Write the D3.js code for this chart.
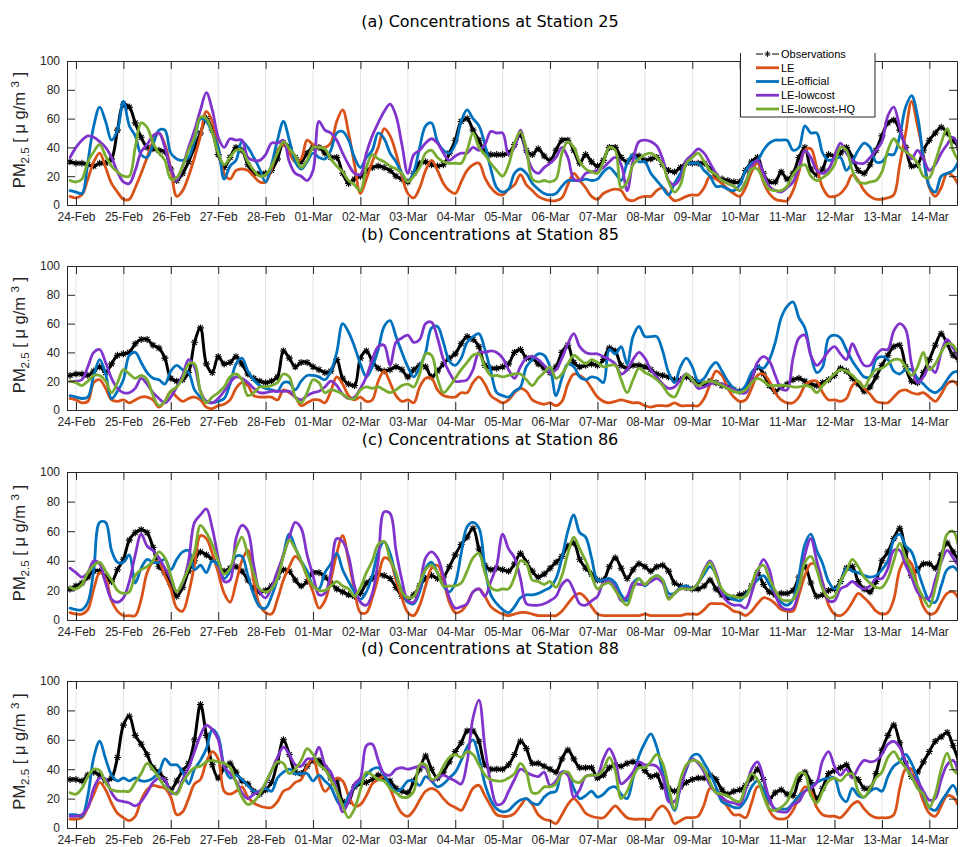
<!DOCTYPE html>
<html>
<head>
<meta charset="utf-8">
<script src="https://cdn.jsdelivr.net/npm/d3@7"></script>
<style>
  body { margin: 0; background: #fff; }
  svg { display: block; }
  text { white-space: pre; }
</style>
</head>
<body>
<script>
// values every 3 hours, 23-Feb 21:00 .. 14-Mar 15:00 (151 points)
var startTime = Date.UTC(2019, 1, 23, 21),
    stepHours = 3;

var stations = ["25", "85", "86", "88"];
var panelLetters = ["a", "b", "c", "d"];
var seriesNames = ["Observations", "LE", "LE-official", "LE-lowcost", "LE-lowcost-HQ"];
var yTicks = [0, 20, 40, 60, 80, 100];

// ---- Station 25 ----
var obs25 = [30,
29,29,28,27,29,29,32,52,
70,68,57,47,40,39,38,37,
25,17,22,30,40,50,60,52,
35,26,33,40,38,28,22,22,
22,24,32,43,40,33,30,36,
40,40,36,33,33,22,15,18,
20,24,26,27,26,24,20,18,
16,22,29,30,28,27,28,36,
45,58,60,52,45,37,35,35,
35,36,42,49,38,35,39,34,
31,38,45,45,38,29,35,30,
27,31,40,40,33,30,34,34,
31,32,33,28,24,23,26,29,
29,29,29,25,20,18,17,16,
16,24,30,33,22,16,16,23,
18,22,33,40,25,21,25,35,
34,36,40,33,24,22,28,38,
48,57,59,52,40,27,28,38,
45,50,54,50,45,40];
var le25 = [6,
5,7,18,30,36,26,15,9,
4,4,12,22,33,44,50,42,
25,6,10,20,33,48,65,58,
40,22,18,24,25,24,20,16,
16,25,38,42,36,30,32,45,
42,40,40,43,58,66,50,28,
8,18,30,40,53,48,36,20,
8,5,12,24,31,24,15,10,
8,16,24,28,29,19,12,8,
7,11,14,21,14,10,6,4,
3,3,5,14,22,17,12,6,
4,8,10,11,10,4,3,5,
6,6,10,12,7,3,4,6,
7,7,12,20,18,15,11,8,
6,12,23,29,16,8,4,3,
3,10,23,38,39,26,12,6,
6,8,13,21,17,10,6,4,
4,5,7,28,50,72,55,35,
12,6,12,22,20,13];
var official25 = [10,
9,8,30,55,68,58,45,52,
72,55,48,35,33,42,52,52,
36,32,31,33,45,60,58,50,
40,18,27,31,44,40,33,25,
16,28,45,58,45,30,25,30,
36,33,32,38,50,51,45,33,
26,33,38,50,46,36,30,22,
16,23,40,55,57,44,38,36,
42,58,66,60,55,42,25,12,
9,11,22,25,22,15,11,8,
7,8,13,17,17,17,18,17,
18,23,26,22,17,29,35,30,
30,22,17,12,7,15,22,29,
29,29,24,20,13,13,11,10,
14,24,29,31,38,43,45,45,
45,38,40,55,50,50,36,31,
32,33,24,30,38,43,40,30,
30,35,35,48,68,76,62,33,
13,9,20,22,24,31];
var lowcost25 = [33,
40,45,48,47,44,40,33,23,
16,15,24,37,42,48,50,40,
25,17,27,40,52,66,78,66,
47,40,46,45,45,33,31,31,
35,43,43,45,30,22,20,17,
24,58,52,50,45,36,28,22,
21,36,48,57,65,70,62,42,
22,35,38,43,46,43,36,31,
34,36,36,40,38,42,51,50,
50,35,40,52,36,25,22,26,
29,33,40,33,18,17,22,23,
24,26,30,33,28,10,31,44,
45,44,41,32,17,14,19,31,
35,39,36,29,22,17,15,13,
10,16,27,31,22,13,10,9,
12,16,26,38,33,24,22,25,
34,43,36,31,29,29,33,38,
44,62,68,54,40,32,38,32,
24,28,36,42,47,40];
var lowcostHQ25 = [17,
16,18,30,37,42,34,27,23,
20,20,40,57,54,43,36,31,
18,19,27,38,47,61,60,50,
36,28,33,38,38,30,24,20,
21,27,36,44,39,34,26,31,
40,40,39,32,27,23,17,14,
10,26,35,32,30,27,25,22,
16,20,26,36,38,33,30,29,
29,29,38,50,40,35,29,24,
20,28,43,51,39,18,16,17,
16,18,36,44,40,30,25,23,
22,30,40,38,12,16,28,32,
35,36,33,28,16,9,14,29,
33,36,30,24,21,17,15,13,
10,16,25,25,17,11,10,10,
13,21,26,28,20,17,19,22,
28,40,38,24,16,15,16,17,
23,38,46,40,37,34,29,20,
19,30,43,53,38,30];

// ---- Station 85 ----
var obs85 = [24,
25,25,24,27,30,26,32,38,
39,40,46,49,49,45,43,36,
22,20,21,26,47,57,32,26,
37,32,33,37,32,25,22,20,
19,20,23,41,36,30,33,33,
30,28,26,27,35,22,18,17,
36,41,34,29,27,28,30,28,
23,28,31,30,23,27,32,36,
39,46,51,49,44,31,29,29,
30,32,40,42,36,36,32,29,
26,30,40,45,33,30,31,32,
31,35,43,41,31,29,31,31,
30,28,25,24,23,21,21,23,
21,19,18,20,19,17,16,14,
13,14,22,30,25,17,13,16,
18,21,22,20,18,17,19,21,
24,29,27,22,18,13,16,23,
31,38,44,45,30,20,19,26,
35,45,53,46,38,35];
var le85 = [8,
7,5,6,19,21,15,7,6,
7,5,7,9,9,7,2,6,
13,9,6,8,9,7,2,1,
3,4,7,15,19,17,10,9,
9,9,7,14,12,9,3,5,
7,7,5,13,23,18,10,7,
9,6,7,20,27,19,10,6,
7,5,16,22,22,14,10,9,
9,12,12,19,23,18,10,7,
5,7,12,15,13,7,5,4,
5,3,6,18,25,24,21,15,
9,6,5,6,7,6,5,5,
3,2,3,3,3,5,3,3,
3,3,8,18,27,24,15,9,
6,7,15,24,25,20,12,7,
5,5,9,17,20,20,12,7,
7,6,8,17,20,15,11,6,
5,5,9,13,14,12,11,12,
9,6,11,18,20,16];
var official85 = [10,
9,8,9,24,35,25,8,13,
21,38,40,33,26,22,21,18,
27,31,28,26,14,9,6,5,
6,8,18,32,36,27,21,17,
15,14,13,19,19,14,20,24,
24,23,21,27,40,60,54,44,
32,23,30,42,58,62,51,40,
30,23,30,40,57,58,47,34,
31,36,47,51,53,42,27,12,
10,9,13,16,30,35,39,38,
30,10,22,32,30,23,21,23,
22,19,42,39,44,32,51,58,
51,51,51,41,26,19,30,36,
30,20,22,29,33,27,20,15,
13,17,26,30,29,35,47,64,
72,75,64,57,38,26,30,50,
52,50,42,34,28,23,23,35,
37,35,27,25,28,28,22,18,
14,12,15,21,26,27];
var lowcost85 = [20,
20,21,30,40,42,33,22,15,
12,12,15,22,18,12,8,5,
9,16,24,35,30,13,6,5,
8,13,19,23,22,19,15,12,
12,13,13,13,13,9,7,10,
12,13,16,20,17,11,8,9,
15,23,35,44,45,31,47,50,
52,47,49,60,61,50,35,26,
20,20,21,28,40,40,41,40,
36,28,22,30,36,37,35,31,
26,28,36,46,53,44,40,39,
39,37,35,32,25,28,35,40,
36,28,23,18,15,16,21,25,
21,15,16,18,19,18,16,14,
12,12,21,33,37,34,24,15,
14,36,50,52,38,31,35,41,
44,39,35,46,38,31,31,38,
42,42,55,60,56,32,19,23,
30,26,40,49,43,36];
var lowcostHQ85 = [20,
19,17,20,24,24,20,12,19,
28,25,22,24,21,10,3,6,
13,16,22,32,32,13,5,9,
12,16,23,25,21,10,12,16,
16,17,19,25,23,9,5,12,
21,19,12,14,13,11,8,8,
14,16,15,16,14,12,14,17,
18,16,25,39,38,22,12,16,
22,28,33,38,39,30,24,24,
23,24,25,25,21,17,22,26,
30,22,25,32,38,35,32,35,
33,30,31,31,21,12,21,29,
26,24,21,17,11,9,17,25,
21,17,19,20,19,17,15,13,
12,14,19,22,20,17,17,17,
17,16,16,17,16,12,17,21,
25,28,27,24,20,16,23,28,
29,32,35,35,30,24,30,40,
28,32,40,46,45,37];

// ---- Station 86 ----
var obs86 = [21,
23,25,29,33,33,29,26,34,
41,54,59,61,59,49,36,32,
24,16,22,33,40,46,44,41,
37,33,35,36,33,27,21,19,
20,23,29,34,33,27,23,26,
32,32,29,25,21,19,17,16,
18,25,28,31,30,28,22,16,
14,17,23,28,30,28,29,36,
44,51,56,62,48,37,34,35,
34,33,38,45,39,33,29,31,
35,39,43,50,52,41,35,31,
27,27,36,42,35,28,34,38,
36,33,36,37,33,25,23,22,
21,21,23,27,21,17,15,15,
17,18,23,32,24,19,17,18,
18,20,29,36,25,16,17,20,
21,26,35,36,26,21,19,26,
40,46,55,62,46,30,34,38,
38,35,44,52,46,40];
var le86 = [5,
4,4,7,21,32,28,13,6,
3,3,3,14,32,39,39,30,
21,8,6,18,37,57,55,45,
32,18,12,25,40,47,26,10,
5,4,14,27,36,43,39,29,
19,8,13,27,45,57,40,20,
5,5,15,29,42,40,27,15,
5,3,10,23,35,37,27,12,
5,6,11,19,21,16,9,6,
4,3,4,5,5,4,3,3,
3,3,6,11,16,18,15,9,
4,3,3,3,3,3,3,3,
4,3,3,3,3,3,3,4,
4,4,7,11,11,11,9,6,
5,3,6,11,15,14,11,7,
6,6,17,30,38,37,25,10,
4,3,6,12,18,15,11,6,
4,5,14,34,41,38,22,9,
4,5,12,18,19,14];
var official86 = [8,
7,7,12,34,66,66,47,39,
39,44,25,35,41,39,39,41,
34,41,46,47,34,37,32,40,
37,28,33,43,43,30,17,9,
8,16,28,44,58,49,40,33,
23,21,32,38,45,34,26,19,
14,19,30,46,53,45,30,20,
12,11,19,35,39,32,23,19,
25,45,63,66,62,36,17,11,
7,5,9,15,17,17,18,20,
22,28,42,60,71,59,56,42,
27,27,28,25,17,13,25,28,
23,27,30,27,18,18,22,23,
21,25,31,36,31,20,16,14,
13,17,22,27,30,24,18,12,
10,14,30,51,58,47,38,26,
21,25,35,33,32,30,29,30,
34,40,54,58,50,46,34,22,
13,12,23,34,36,32];
var lowcost86 = [35,
32,29,32,40,38,25,14,12,
15,26,44,58,50,47,42,35,
28,19,25,40,66,71,75,62,
42,26,27,55,64,60,37,19,
15,22,33,44,56,66,62,44,
30,17,18,32,55,53,43,23,
12,10,18,40,73,72,47,27,
13,12,23,42,46,42,30,15,
8,9,11,19,21,16,26,37,
58,48,42,28,11,10,10,11,
13,16,24,27,20,11,10,13,
16,25,26,22,13,16,25,24,
24,26,28,25,15,18,21,21,
21,25,34,40,32,18,12,10,
10,8,18,32,41,34,17,9,
7,8,21,44,55,40,25,13,
13,21,23,26,23,21,23,28,
28,35,47,47,37,29,19,15,
15,27,39,47,42,36];
var lowcostHQ86 = [22,
21,24,32,37,39,33,27,20,
18,19,30,34,36,40,46,42,
30,19,26,35,46,64,59,51,
40,31,35,48,56,44,31,21,
19,21,28,43,54,48,40,30,
23,20,20,23,26,23,21,16,
22,32,40,51,53,41,32,19,
15,16,25,34,37,32,23,23,
23,25,33,42,45,32,22,20,
21,21,29,40,38,27,26,24,
26,22,30,45,56,48,40,30,
21,24,25,20,14,10,21,28,
24,28,30,27,14,18,21,21,
21,25,33,39,30,21,17,16,
15,16,24,34,37,28,20,14,
13,14,22,39,43,34,21,15,
16,26,33,41,36,29,25,22,
22,28,40,52,42,33,23,15,
9,22,40,58,60,48];

// ---- Station 88 ----
var obs88 = [33,
33,32,36,38,36,32,34,48,
70,76,63,57,50,41,38,33,
26,32,39,44,60,84,63,43,
34,41,44,38,32,30,25,23,
26,31,45,60,50,38,37,42,
46,46,41,34,32,18,18,28,
30,31,33,36,34,32,27,25,
24,32,40,49,40,34,38,45,
52,58,66,66,59,43,40,40,
40,43,50,59,54,44,44,42,
40,38,47,53,47,41,41,41,
34,36,41,43,42,44,45,43,
39,35,36,28,27,25,28,31,
33,34,34,36,33,26,23,25,
26,29,34,40,33,20,24,26,
23,22,33,38,31,20,27,37,
39,41,43,36,33,27,27,37,
53,63,70,58,44,35,38,45,
52,59,62,65,56,45];
var le88 = [6,
6,7,14,23,31,26,17,10,
7,5,8,19,26,29,28,27,
21,9,11,20,30,33,45,52,
47,25,23,25,28,21,17,15,
14,14,18,25,27,31,33,42,
47,34,25,29,34,32,22,15,
16,22,30,33,35,27,17,10,
8,12,19,25,27,25,20,16,
14,12,19,27,29,22,15,9,
8,8,10,15,20,16,9,6,
5,3,9,16,20,16,10,8,
7,7,11,15,11,7,6,6,
6,6,12,15,11,3,5,7,
7,8,16,27,25,20,14,9,
9,7,17,28,27,12,7,6,
7,12,21,28,25,14,9,8,
8,7,11,16,18,13,9,7,
7,7,9,27,40,40,30,18,
10,8,15,22,21,14];
var official88 = [9,
9,8,22,48,59,47,36,32,
34,32,34,32,32,34,38,47,
43,43,38,30,40,46,54,67,
62,42,34,36,33,29,25,25,
27,25,34,38,40,37,37,37,
32,36,32,28,19,14,22,28,
32,36,40,41,36,29,25,27,
32,32,29,35,32,28,30,34,
38,46,55,60,48,30,19,13,
11,12,16,19,20,17,16,21,
24,25,38,37,27,20,22,25,
21,23,27,28,23,20,34,49,
58,64,55,38,22,12,28,40,
49,50,44,37,28,18,16,14,
14,19,28,32,26,18,13,13,
13,17,22,25,28,31,33,34,
34,22,18,27,22,21,25,27,
25,35,42,45,50,44,34,22,
14,12,18,24,29,20];
var lowcost88 = [8,
8,9,14,27,34,33,24,19,
18,17,15,18,24,31,34,33,
24,24,33,41,52,63,70,67,
60,42,37,32,24,20,23,25,
30,39,48,55,50,43,42,47,
47,55,43,38,26,11,18,30,
34,56,57,46,37,36,40,41,
40,41,42,41,32,34,36,34,
32,30,45,75,87,55,30,16,
17,25,33,40,38,36,35,38,
29,32,38,36,21,26,35,36,
36,47,54,46,30,33,38,45,
43,43,42,35,18,18,27,41,
47,44,38,29,24,21,18,17,
16,26,40,45,34,20,12,11,
11,16,18,25,27,31,46,52,
42,36,40,34,41,46,45,46,
50,57,59,55,45,36,32,25,
19,20,33,43,46,36];
var lowcostHQ88 = [24,
23,27,35,40,39,31,26,25,
25,25,31,37,44,40,34,28,
25,23,31,37,41,42,45,46,
45,44,41,31,21,16,18,23,
31,39,45,44,37,40,46,54,
50,43,40,33,25,15,7,13,
26,38,36,33,32,27,24,21,
21,25,43,43,33,35,42,48,
50,48,52,50,43,36,33,32,
32,34,37,44,38,24,24,28,
28,30,37,38,32,31,35,36,
36,40,48,39,20,25,35,41,
41,45,50,44,28,13,33,43,
46,45,40,31,24,23,22,19,
18,29,37,33,22,13,12,14,
18,28,37,37,22,17,25,32,
34,32,36,37,25,21,27,34,
38,48,52,46,41,35,27,23,
14,23,40,51,40,36];

var stationSeries = [
  [obs25, le25, official25, lowcost25, lowcostHQ25],
  [obs85, le85, official85, lowcost85, lowcostHQ85],
  [obs86, le86, official86, lowcost86, lowcostHQ86],
  [obs88, le88, official88, lowcost88, lowcostHQ88]
];

// ---- layout and style ----
var width = 966, height = 847,
    plotLeft = 67, plotRight = 957,
    axisColor = "#262626",
    sans = "'Liberation Sans', Arial, sans-serif";

var colors = ["#000000", "#d95319", "#0072bd", "#8134cc", "#77ac30"];

var panels = [
  {top: 61,  bottom: 205, titleY: 27},
  {top: 266, bottom: 410, titleY: 240},
  {top: 472, bottom: 620, titleY: 445},
  {top: 681, bottom: 828, titleY: 654}
];

function timeAt(i) { return new Date(startTime + i * stepHours * 3600000); }

var x = d3.scaleUtc()
    .domain([new Date(Date.UTC(2019, 1, 23, 19, 27)), new Date(Date.UTC(2019, 2, 14, 14, 0))])
    .range([plotLeft, plotRight]);

var days = d3.utcDay.range(new Date(Date.UTC(2019, 1, 24)), new Date(Date.UTC(2019, 2, 15)));

var svg = d3.select("body").append("svg")
    .attr("width", width)
    .attr("height", height);

// asterisk marker, radius r
function asterisk(r) {
  var a = r * 0.7071;
  return "M" + (-r) + ",0H" + r + "M0," + (-r) + "V" + r +
         "M" + (-a) + "," + (-a) + "L" + a + "," + a +
         "M" + (-a) + "," + a + "L" + a + "," + (-a);
}

stationSeries.forEach(function(series, p) {
  var pan = panels[p];
  var y = d3.scaleLinear().domain([0, 100]).range([pan.bottom, pan.top]);
  var g = svg.append("g").attr("class", "panel");

  svg.append("clipPath").attr("id", "clip" + p)
    .append("rect")
      .attr("x", plotLeft).attr("y", pan.top)
      .attr("width", plotRight - plotLeft).attr("height", pan.bottom - pan.top);

  // title
  g.append("text")
    .attr("x", 490).attr("y", pan.titleY)
    .attr("text-anchor", "middle")
    .style("font-family", "'DejaVu Sans', Verdana, sans-serif")
    .style("font-size", "16px")
    .attr("fill", "#000")
    .text("(" + panelLetters[p] + ") Concentrations at Station " + stations[p]);

  // vertical grid
  g.append("g").selectAll("line")
    .data(days)
    .enter().append("line")
      .attr("x1", function(d) { return x(d); })
      .attr("x2", function(d) { return x(d); })
      .attr("y1", pan.top).attr("y2", pan.bottom)
      .attr("stroke", "#e3e3e3")
      .attr("stroke-width", 1);

  var line = d3.line()
      .x(function(d, i) { return x(timeAt(i)); })
      .y(function(d) { return y(d); })
      .curve(d3.curveCatmullRom.alpha(0.5));

  var plot = g.append("g").attr("clip-path", "url(#clip" + p + ")");

  // observations: dense black band of asterisks
  plot.append("path")
    .attr("d", line(series[0]))
    .attr("fill", "none")
    .attr("stroke", colors[0])
    .attr("stroke-width", 3)
    .attr("stroke-linejoin", "round");

  plot.append("g").selectAll("path")
    .data(series[0])
    .enter().append("path")
      .attr("transform", function(d, i) { return "translate(" + x(timeAt(i)) + "," + y(d) + ")"; })
      .attr("d", asterisk(3.5))
      .attr("fill", "none")
      .attr("stroke", colors[0])
      .attr("stroke-width", 1.1);

  for (var k = 1; k < series.length; k++) {
    plot.append("path")
      .attr("d", line(series[k]))
      .attr("fill", "none")
      .attr("stroke", colors[k])
      .attr("stroke-width", 2.8)
      .attr("stroke-linejoin", "round")
      .attr("stroke-linecap", "round");
  }

  // axes (box with inward ticks)
  function styleAxis(sel) {
    sel.attr("color", axisColor)
       .style("font-family", sans)
       .style("font-size", "12px");
    sel.select(".domain").attr("stroke-width", 1);
  }

  g.append("g")
    .attr("transform", "translate(0," + pan.bottom + ")")
    .call(d3.axisBottom(x).tickValues(days).tickFormat(d3.utcFormat("%d-%b"))
      .tickSizeInner(-8).tickSizeOuter(0).tickPadding(7.5))
    .call(styleAxis);

  g.append("g")
    .attr("transform", "translate(0," + pan.top + ")")
    .call(d3.axisTop(x).tickValues(days).tickFormat("")
      .tickSizeInner(-8).tickSizeOuter(0))
    .call(styleAxis);

  g.append("g")
    .attr("transform", "translate(" + plotLeft + ",0)")
    .call(d3.axisLeft(y).tickValues(yTicks)
      .tickSizeInner(-8).tickSizeOuter(0).tickPadding(7))
    .call(styleAxis);

  g.append("g")
    .attr("transform", "translate(" + plotRight + ",0)")
    .call(d3.axisRight(y).tickValues(yTicks).tickFormat("")
      .tickSizeInner(-8).tickSizeOuter(0))
    .call(styleAxis);

  // y label: PM2.5 [ μ g/m 3 ]
  var lab = g.append("text")
    .attr("transform", "translate(25," + ((pan.top + pan.bottom) / 2 - 3) + ") rotate(-90)")
    .attr("text-anchor", "middle")
    .style("font-family", sans)
    .style("font-size", "16.5px")
    .attr("fill", axisColor);
  lab.append("tspan").text("PM");
  lab.append("tspan").attr("dy", 4).style("font-size", "11.5px").text("2.5");
  lab.append("tspan").attr("dy", -4).text(" [ \u03bc g/m ");
  lab.append("tspan").attr("dy", -6).style("font-size", "11.5px").text("3");
  lab.append("tspan").attr("dy", 6).text(" ]");
});

// legend (top panel)
var lg = svg.append("g");
var lgLeft = 740.5, lgRight = 875, lgTop = 53, lgBottom = 117;
lg.append("rect")
  .attr("x", lgLeft).attr("y", lgTop - 8)
  .attr("width", lgRight - lgLeft).attr("height", lgBottom - lgTop + 8)
  .attr("fill", "#fff");
lg.append("path")
  .attr("d", "M" + lgLeft + "," + lgTop + "V" + lgBottom + "H" + lgRight + "V" + lgTop)
  .attr("fill", "none")
  .attr("stroke", axisColor)
  .attr("stroke-width", 1);

var rowY = d3.scaleLinear().domain([0, 4]).range([54, 109]);
seriesNames.forEach(function(name, k) {
  var yy = rowY(k);
  if (k === 0) {
    lg.append("path")
      .attr("d", "M756," + yy + "H763M772," + yy + "H779")
      .attr("stroke", colors[0]).attr("stroke-width", 1);
    lg.append("path")
      .attr("transform", "translate(767.5," + yy + ")")
      .attr("d", asterisk(3))
      .attr("fill", "none").attr("stroke", colors[0]).attr("stroke-width", 0.9);
  } else {
    lg.append("line")
      .attr("x1", 756).attr("x2", 779).attr("y1", yy).attr("y2", yy)
      .attr("stroke", colors[k]).attr("stroke-width", 2.8);
  }
  lg.append("text")
    .attr("x", 781).attr("y", yy).attr("dy", "0.36em")
    .style("font-family", sans)
    .style("font-size", "11px")
    .attr("fill", "#000")
    .text(name);
});
</script>
</body>
</html>
